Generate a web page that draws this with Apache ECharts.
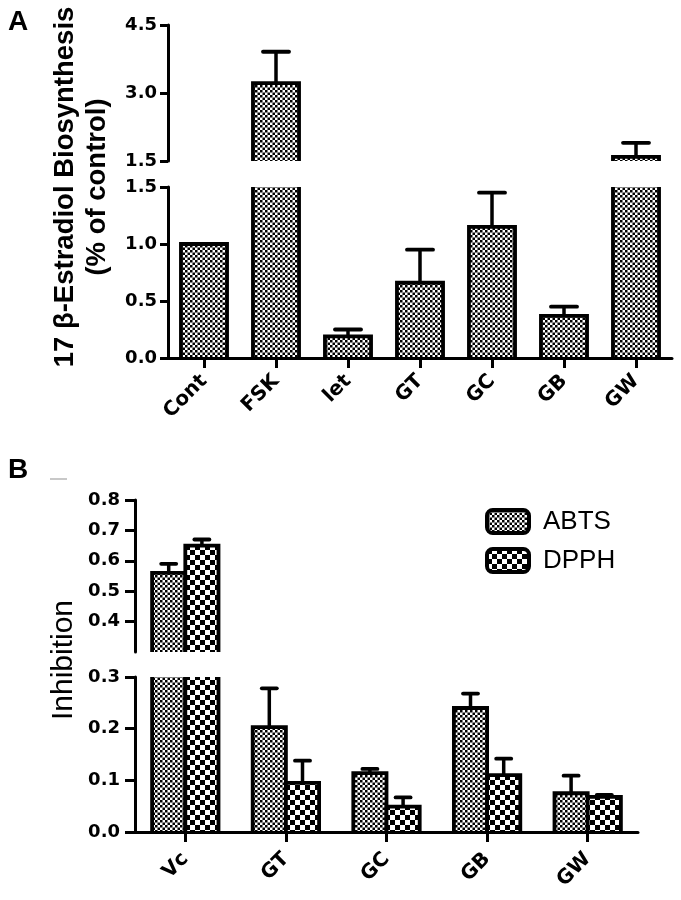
<!DOCTYPE html>
<html><head><meta charset="utf-8">
<script src="https://cdn.jsdelivr.net/npm/echarts@6/dist/echarts.min.js"></script>
<style>html,body{margin:0;padding:0;background:#fff}#c{width:681px;height:900px}</style>
</head><body><div id="c"></div>
<script>
// ---------- data ----------
const catsA = ['Cont', 'FSK', 'let', 'GT', 'GC', 'GB', 'GW'];
const estradiol = [1.0, 3.22, 0.19, 0.66, 1.15, 0.37, 1.59];
const estradiolSD = [0, 0.69, 0.06, 0.29, 0.30, 0.08, 0.31];
const ticksAUpper = [1.5, 3.0, 4.5];
const ticksALower = [0, 0.5, 1.0, 1.5];

const catsB = ['Vc', 'GT', 'GC', 'GB', 'GW'];
const abts = [0.56, 0.203, 0.114, 0.24, 0.075];
const abtsSD = [0.03, 0.075, 0.008, 0.028, 0.034];
const dpph = [0.65, 0.095, 0.049, 0.11, 0.068];
const dpphSD = [0.02, 0.043, 0.018, 0.032, 0.004];
const ticksBUpper = [0.3, 0.4, 0.5, 0.6, 0.7, 0.8];
const ticksBLower = [0, 0.1, 0.2, 0.3];

// ---------- styles ----------
function makeChecker(cell) {
  const p = cell * 2;
  const cv = document.createElement('canvas');
  cv.width = p; cv.height = p;
  const ctx = cv.getContext('2d');
  ctx.fillStyle = '#fff'; ctx.fillRect(0, 0, p, p);
  ctx.fillStyle = '#000';
  ctx.fillRect(0, 0, cell, cell);
  ctx.fillRect(cell, cell, cell, cell);
  return { image: cv, repeat: 'repeat' };
}
const fine = makeChecker(2.5);
const coarse = makeChecker(5);

const TICK_FONT = 'DejaVu Sans';
const TITLE_FONT = 'Liberation Sans';

function range(t) {
  return { min: t[0], max: t[t.length - 1], interval: +(t[1] - t[0]).toFixed(6) };
}

function barRenderer(widthFrac, offsetFrac, pattern, capW) {
  return function (params, api) {
    const i = api.value(0), v = api.value(1), sd = api.value(2);
    const band = api.size([1, 0])[0];
    const w = band * widthFrac;
    const c = api.coord([i, v]);
    const base = api.coord([i, 0]);
    const cs = params.coordSys;
    const cx = c[0] + offsetFrac * band;
    const topY = c[1];
    const baseY = Math.max(base[1], cs.y + cs.height) + 10;
    const children = [{
      type: 'rect',
      shape: { x: cx - w / 2, y: topY, width: w, height: baseY - topY },
      style: { fill: pattern, stroke: '#000', lineWidth: 3.8 }
    }];
    if (sd > 0) {
      const e = api.coord([i, v + sd]);
      children.push({ type: 'line', shape: { x1: cx, y1: topY, x2: cx, y2: e[1] },
        style: { stroke: '#000', lineWidth: 3.5 } });
      children.push({ type: 'line', shape: { x1: cx - capW / 2, y1: e[1], x2: cx + capW / 2, y2: e[1] },
        style: { stroke: '#000', lineWidth: 3.8, lineCap: 'round' } });
    }
    return { type: 'group', children: children };
  };
}

function valueAxis(gridIndex, ticks, margin, tickLen, showMin) {
  const r = range(ticks);
  return {
    type: 'value', gridIndex: gridIndex, min: r.min, max: r.max, interval: r.interval, z: 5,
    axisLine: { show: true, onZero: false, lineStyle: { color: '#000', width: 3 } },
    axisTick: { show: true, length: tickLen, lineStyle: { color: '#000', width: 3 } },
    axisLabel: { margin: margin, color: '#000', fontFamily: TICK_FONT, fontWeight: 'bold', fontSize: 18,
      showMinLabel: showMin, formatter: v => v.toFixed(1) },
    splitLine: { show: false }
  };
}
function catAxis(gridIndex, cats, show, margin) {
  return {
    type: 'category', gridIndex: gridIndex, data: cats, show: show, z: 5,
    axisLine: { show: true, onZero: false, lineStyle: { color: '#000', width: 3 } },
    axisTick: { show: true, alignWithLabel: true, length: 10, lineStyle: { color: '#000', width: 3 } },
    axisLabel: { interval: 0, rotate: 45, margin: margin, color: '#000', fontFamily: TICK_FONT,
      fontWeight: 'bold', fontSize: 20 },
    splitLine: { show: false }
  };
}

const dataA = catsA.map((c, i) => [i, estradiol[i], estradiolSD[i]]);
const dataAbts = catsB.map((c, i) => [i, abts[i], abtsSD[i]]);
const dataDpph = catsB.map((c, i) => [i, dpph[i], dpphSD[i]]);

const option = {
  animation: false,
  backgroundColor: '#fff',
  grid: [
    { left: 168, width: 504, top: 25, height: 136 },
    { left: 168, width: 504, top: 187, height: 171 },
    { left: 135, width: 503, top: 500, height: 152 },
    { left: 135, width: 503, top: 677, height: 155 }
  ],
  xAxis: [
    catAxis(0, catsA, false, 20),
    catAxis(1, catsA, true, 20),
    catAxis(2, catsB, false, 24),
    catAxis(3, catsB, true, 24)
  ],
  yAxis: [
    valueAxis(0, ticksAUpper, 11, 8, true),
    valueAxis(1, ticksALower, 11, 8, true),
    valueAxis(2, ticksBUpper, 15, 10, false),
    valueAxis(3, ticksBLower, 15, 10, true)
  ],
  legend: {
    orient: 'vertical', left: 485, top: 508, padding: 0, itemWidth: 42, itemHeight: 23, itemGap: 12,
    selectedMode: false,
    textStyle: { fontSize: 26, fontFamily: TITLE_FONT, color: '#000', padding: [0, 0, 0, 9] },
    data: [
      { name: 'ABTS', icon: 'roundRect', itemStyle: { color: fine, borderColor: '#000', borderWidth: 4 } },
      { name: 'DPPH', icon: 'roundRect', itemStyle: { color: coarse, borderColor: '#000', borderWidth: 4 } }
    ]
  },
  series: [
    { type: 'custom', name: 'Estradiol', xAxisIndex: 0, yAxisIndex: 0, clip: true,
      renderItem: barRenderer(0.64, 0, fine, 26), data: dataA, encode: { x: 0, y: 1 } },
    { type: 'custom', name: 'Estradiol', xAxisIndex: 1, yAxisIndex: 1, clip: true,
      renderItem: barRenderer(0.64, 0, fine, 26), data: dataA, encode: { x: 0, y: 1 } },
    { type: 'custom', name: 'ABTS', xAxisIndex: 2, yAxisIndex: 2, clip: true, itemStyle: { color: fine },
      renderItem: barRenderer(0.33, -0.165, fine, 15), data: dataAbts, encode: { x: 0, y: 1 } },
    { type: 'custom', name: 'DPPH', xAxisIndex: 2, yAxisIndex: 2, clip: true, itemStyle: { color: coarse },
      renderItem: barRenderer(0.33, 0.165, coarse, 15), data: dataDpph, encode: { x: 0, y: 1 } },
    { type: 'custom', name: 'ABTS', xAxisIndex: 3, yAxisIndex: 3, clip: true, itemStyle: { color: fine },
      renderItem: barRenderer(0.33, -0.165, fine, 15), data: dataAbts, encode: { x: 0, y: 1 } },
    { type: 'custom', name: 'DPPH', xAxisIndex: 3, yAxisIndex: 3, clip: true, itemStyle: { color: coarse },
      renderItem: barRenderer(0.33, 0.165, coarse, 15), data: dataDpph, encode: { x: 0, y: 1 } }
  ],
  graphic: [
    { type: 'text', x: 8, y: 8, style: { text: 'A', fontFamily: TITLE_FONT, fontWeight: 'bold', fontSize: 28, fill: '#000' } },
    { type: 'text', x: 8, y: 456, style: { text: 'B', fontFamily: TITLE_FONT, fontWeight: 'bold', fontSize: 28, fill: '#000' } },
    { type: 'line', shape: { x1: 50, y1: 479, x2: 67, y2: 479 }, style: { stroke: '#c8c8c8', lineWidth: 2 } },
    { type: 'text', x: 81, y: 187, rotation: Math.PI / 2,
      style: { text: '17 β-Estradiol Biosynthesis\n(% of control)', fontFamily: TITLE_FONT, fontWeight: 'bold',
        fontSize: 27.5, lineHeight: 32, fill: '#000', align: 'center', verticalAlign: 'middle' } },
    { type: 'text', x: 64, y: 660, rotation: Math.PI / 2,
      style: { text: 'Inhibition', fontFamily: TITLE_FONT, fontSize: 30, fill: '#000',
        align: 'center', verticalAlign: 'middle' } }
  ]
};

const chart = echarts.init(document.getElementById('c'), null, { renderer: 'canvas' });
chart.setOption(option);
</script>
</body></html>
